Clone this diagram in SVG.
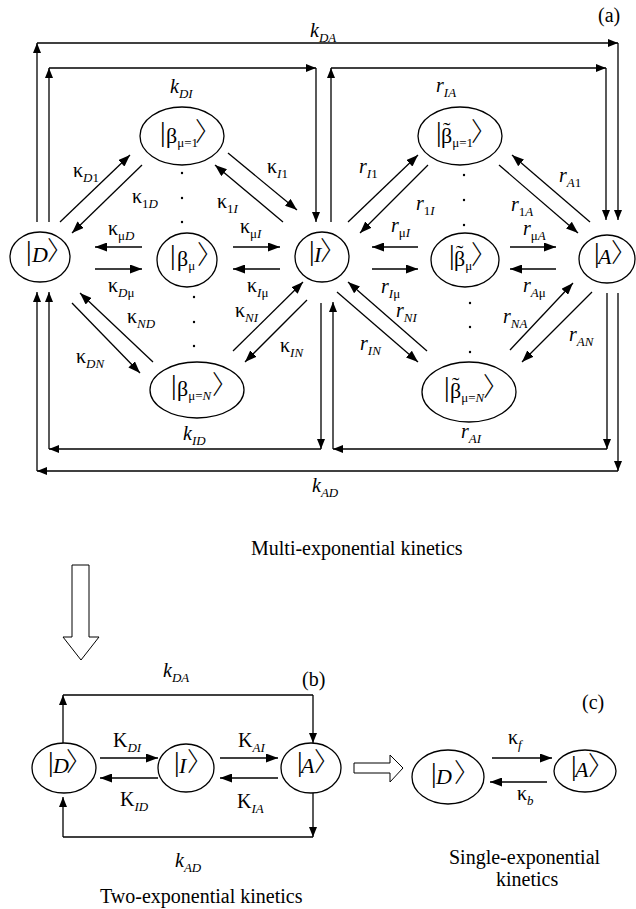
<svg xmlns="http://www.w3.org/2000/svg" width="636" height="909" viewBox="0 0 636 909">
<defs>
<marker id="ah" viewBox="0 0 10 8" refX="10" refY="4" markerWidth="10" markerHeight="8" markerUnits="userSpaceOnUse" orient="auto"><path d="M0,0 L10,4 L0,8 Z" fill="#000"/></marker>
<marker id="ahb" viewBox="0 0 12 9" refX="12" refY="4.5" markerWidth="12" markerHeight="9" markerUnits="userSpaceOnUse" orient="auto"><path d="M0,0 L12,4.5 L0,9 Z" fill="#000"/></marker>
<style>
.ln{stroke:#000;stroke-width:1.3;fill:none}
.a{marker-end:url(#ah)}
.b{marker-end:url(#ahb)}
.hol{fill:#fff;stroke:#000;stroke-width:1}
ellipse{fill:none;stroke:#000;stroke-width:1.3}
text{font-family:"Liberation Serif","DejaVu Serif",serif;fill:#000}
.lb{font-size:20px}
.s{font-size:13px}
.i{font-style:italic}
.ket{font-size:22px}
.br{font-size:28px}
.rb{font-size:26px;font-family:"Noto Sans CJK JP","Noto Sans CJK SC",sans-serif;font-weight:300}
.cap{font-size:20px}
</style>
</defs>

<g id="connectors">
<!-- (a) perimeter -->
<path class="ln a" d="M37,222 V43"/><path class="ln a" d="M37,43 H618"/><path class="ln a" d="M618,43 V220"/>
<path class="ln a" d="M49,222 V68"/><path class="ln a" d="M49,68 H316"/><path class="ln a" d="M316,68 V222"/>
<path class="ln a" d="M331,222 V68"/><path class="ln a" d="M331,68 H606"/><path class="ln a" d="M606,68 V220"/>
<path class="ln a" d="M321,303 V449"/><path class="ln a" d="M321,449 H49"/><path class="ln a" d="M49,449 V292"/>
<path class="ln a" d="M607,293 V449"/><path class="ln a" d="M607,449 H333"/><path class="ln a" d="M333,449 V302"/>
<path class="ln a" d="M618,293 V471"/><path class="ln a" d="M618,471 H37"/><path class="ln a" d="M37,471 V292"/>
<!-- (a) diagonals -->
<path class="ln b" d="M60,222 L130,155"/><path class="ln b" d="M142,165 L72,233"/>
<path class="ln b" d="M228,153 L297,210"/><path class="ln b" d="M283,222 L215,165"/>
<path class="ln b" d="M348,222 L418,155"/><path class="ln b" d="M428,165 L360,233"/>
<path class="ln b" d="M499,165 L578,233"/><path class="ln b" d="M590,222 L512,155"/>
<path class="ln b" d="M153,362 L80,293"/><path class="ln b" d="M72,303 L140,373"/>
<path class="ln b" d="M307,300 L245,362"/><path class="ln b" d="M233,351 L303,282"/>
<path class="ln b" d="M427,351 L348,282"/><path class="ln b" d="M337,292 L418,362"/>
<path class="ln b" d="M510,350 L573,283"/><path class="ln b" d="M592,292 L522,362"/>
<!-- (a) horizontals -->
<path class="ln b" d="M142,247 H95"/><path class="ln b" d="M95,269 H142"/>
<path class="ln b" d="M233,247 H280"/><path class="ln b" d="M280,269 H233"/>
<path class="ln b" d="M418,247 H372"/><path class="ln b" d="M372,269 H418"/>
<path class="ln b" d="M510,247 H556"/><path class="ln b" d="M556,269 H510"/>
<!-- (b) -->
<path class="ln a" d="M63,743 V695"/><path class="ln" d="M63,695 H313"/><path class="ln a" d="M313,695 V743"/>
<path class="ln a" d="M313,793 V837"/><path class="ln" d="M313,837 H63"/><path class="ln a" d="M63,837 V797"/>
<path class="ln b" d="M100,758 H158"/><path class="ln b" d="M158,778 H100"/>
<path class="ln b" d="M220,758 H278"/><path class="ln b" d="M278,778 H220"/>
<!-- (c) -->
<path class="ln b" d="M492,758 H552"/><path class="ln b" d="M547,782 H490"/>
<!-- hollow arrows -->
<path class="hol" d="M72,565 H89 V637 H99 L81,660 L63,637 H72 Z"/>
<path class="hol" d="M354,763 H390 V755 L403,768 L390,782 V773 H354 Z"/>
</g>

<g id="dots" fill="#000">
<circle cx="182" cy="173" r="1.2"/><circle cx="182" cy="198" r="1.2"/><circle cx="182" cy="222" r="1.2"/>
<circle cx="194" cy="297" r="1.2"/><circle cx="194" cy="322" r="1.2"/><circle cx="194" cy="346" r="1.2"/>
<circle cx="464" cy="175" r="1.2"/><circle cx="464" cy="200" r="1.2"/><circle cx="464" cy="225" r="1.2"/>
<circle cx="470" cy="303" r="1.2"/><circle cx="470" cy="327" r="1.2"/><circle cx="470" cy="352" r="1.2"/>
</g>

<!-- (a) nodes -->
<g id="a-D"><ellipse cx="40" cy="257" rx="30" ry="25"/><text class="ket" y="262"><tspan class="br" x="26" dy="-2">|</tspan><tspan class="i" x="32" dy="2">D</tspan><tspan class="rb" x="47" dy="-2">〉</tspan></text></g>
<g id="a-I"><ellipse cx="322" cy="257" rx="27" ry="25"/><text class="ket" y="262"><tspan class="br" x="309" dy="-2">|</tspan><tspan class="i" x="314" dy="2">I</tspan><tspan class="rb" x="320" dy="-2">〉</tspan></text></g>
<g id="a-A"><ellipse cx="607" cy="259" rx="28" ry="24"/><text class="ket" y="264"><tspan class="br" x="594" dy="-2">|</tspan><tspan class="i" x="598" dy="2">A</tspan><tspan class="rb" x="611" dy="-2">〉</tspan></text></g>
<g id="a-b1"><ellipse cx="182" cy="136" rx="42" ry="29"/><text class="ket" y="143"><tspan class="br" x="160" dy="-2">|</tspan><tspan x="166" dy="2">β</tspan><tspan class="s" dy="4">μ=1</tspan><tspan class="rb" x="195" dy="-6">〉</tspan></text></g>
<g id="a-bmu"><ellipse cx="187" cy="260" rx="30" ry="27"/><text class="ket" y="266"><tspan class="br" x="170" dy="-2">|</tspan><tspan x="177" dy="2">β</tspan><tspan class="s" dy="4">μ</tspan><tspan class="rb" x="197" dy="-6">〉</tspan></text></g>
<g id="a-bN"><ellipse cx="197" cy="390" rx="47" ry="28"/><text class="ket" y="396"><tspan class="br" x="171" dy="-2">|</tspan><tspan x="177" dy="2">β</tspan><tspan class="s" dy="4">μ=<tspan class="i">N</tspan></tspan><tspan class="rb" x="212" dy="-6">〉</tspan></text></g>
<g id="a-bt1"><ellipse cx="460" cy="136" rx="42" ry="29"/><text class="ket" y="143"><tspan class="br" x="436" dy="-2">|</tspan><tspan x="441" dy="2">β</tspan><tspan class="s" dy="4">μ=1</tspan><tspan class="rb" x="471" dy="-6">〉</tspan><tspan x="443" dy="-4">˜</tspan></text></g>
<g id="a-btmu"><ellipse cx="465" cy="260" rx="34" ry="27"/><text class="ket" y="266"><tspan class="br" x="449" dy="-2">|</tspan><tspan x="454" dy="2">β</tspan><tspan class="s" dy="4">μ</tspan><tspan class="rb" x="471" dy="-6">〉</tspan><tspan x="456" dy="-4">˜</tspan></text></g>
<g id="a-btN"><ellipse cx="469" cy="392" rx="47" ry="30"/><text class="ket" y="398"><tspan class="br" x="444" dy="-2">|</tspan><tspan x="450" dy="2">β</tspan><tspan class="s" dy="4">μ=<tspan class="i">N</tspan></tspan><tspan class="rb" x="483" dy="-6">〉</tspan><tspan x="452" dy="-4">˜</tspan></text></g>

<!-- (b) nodes -->
<g id="b-D"><ellipse cx="64" cy="768" rx="32" ry="25"/><text class="ket" y="773"><tspan class="br" x="48" dy="-2">|</tspan><tspan class="i" x="53" dy="2">D</tspan><tspan class="rb" x="66" dy="-2">〉</tspan></text></g>
<g id="b-I"><ellipse cx="186" cy="768" rx="28" ry="24"/><text class="ket" y="773"><tspan class="br" x="174" dy="-2">|</tspan><tspan class="i" x="179" dy="2">I</tspan><tspan class="rb" x="187" dy="-2">〉</tspan></text></g>
<g id="b-A"><ellipse cx="311" cy="768" rx="30" ry="25"/><text class="ket" y="773"><tspan class="br" x="297" dy="-2">|</tspan><tspan class="i" x="301" dy="2">A</tspan><tspan class="rb" x="314" dy="-2">〉</tspan></text></g>
<!-- (c) nodes -->
<g id="c-D"><ellipse cx="448" cy="777" rx="36" ry="27"/><text class="ket" y="784" font-size="26"><tspan class="br" x="431" dy="-2" font-size="32">|</tspan><tspan class="i" x="436" dy="2">D</tspan><tspan class="rb" x="454" dy="-2" font-size="30">〉</tspan></text></g>
<g id="c-A"><ellipse cx="585" cy="771" rx="31" ry="21"/><text class="ket" y="777"><tspan class="br" x="571" dy="-2">|</tspan><tspan class="i" x="575" dy="2">A</tspan><tspan class="rb" x="588" dy="-2">〉</tspan></text></g>

<g id="labels" class="lb">
<text x="598" y="22">(a)</text>
<text x="310" y="37"><tspan class="i">k</tspan><tspan class="s i" dy="5">DA</tspan></text>
<text x="170" y="93"><tspan class="i">k</tspan><tspan class="s i" dy="5">DI</tspan></text>
<text x="436" y="92"><tspan class="i">r</tspan><tspan class="s i" dy="5">IA</tspan></text>
<text x="73" y="177">κ<tspan class="s" dy="5"><tspan class="i">D</tspan>1</tspan></text>
<text x="132" y="203">κ<tspan class="s" dy="5">1<tspan class="i">D</tspan></tspan></text>
<text x="267" y="173">κ<tspan class="s" dy="5"><tspan class="i">I</tspan>1</tspan></text>
<text x="217" y="208">κ<tspan class="s" dy="5">1<tspan class="i">I</tspan></tspan></text>
<text x="108" y="235">κ<tspan class="s" dy="5">μ<tspan class="i">D</tspan></tspan></text>
<text x="240" y="233">κ<tspan class="s" dy="5">μ<tspan class="i">I</tspan></tspan></text>
<text x="108" y="292">κ<tspan class="s" dy="5"><tspan class="i">D</tspan>μ</tspan></text>
<text x="247" y="292">κ<tspan class="s" dy="5"><tspan class="i">I</tspan>μ</tspan></text>
<text x="235" y="317">κ<tspan class="s i" dy="5">NI</tspan></text>
<text x="127" y="323">κ<tspan class="s i" dy="5">ND</tspan></text>
<text x="76" y="363">κ<tspan class="s i" dy="5">DN</tspan></text>
<text x="280" y="352">κ<tspan class="s i" dy="5">IN</tspan></text>
<text x="183" y="440"><tspan class="i">k</tspan><tspan class="s i" dy="5">ID</tspan></text>
<text x="312" y="492"><tspan class="i">k</tspan><tspan class="s i" dy="5">AD</tspan></text>
<text x="359" y="173"><tspan class="i">r</tspan><tspan class="s" dy="5"><tspan class="i">I</tspan>1</tspan></text>
<text x="416" y="210"><tspan class="i">r</tspan><tspan class="s" dy="5">1<tspan class="i">I</tspan></tspan></text>
<text x="511" y="211"><tspan class="i">r</tspan><tspan class="s" dy="5">1<tspan class="i">A</tspan></tspan></text>
<text x="559" y="182"><tspan class="i">r</tspan><tspan class="s" dy="5"><tspan class="i">A</tspan>1</tspan></text>
<text x="391" y="232"><tspan class="i">r</tspan><tspan class="s" dy="5">μ<tspan class="i">I</tspan></tspan></text>
<text x="381" y="293"><tspan class="i">r</tspan><tspan class="s" dy="5"><tspan class="i">I</tspan>μ</tspan></text>
<text x="523" y="235"><tspan class="i">r</tspan><tspan class="s" dy="5">μ<tspan class="i">A</tspan></tspan></text>
<text x="523" y="292"><tspan class="i">r</tspan><tspan class="s" dy="5"><tspan class="i">A</tspan>μ</tspan></text>
<text x="396" y="317"><tspan class="i">r</tspan><tspan class="s i" dy="5">NI</tspan></text>
<text x="503" y="323"><tspan class="i">r</tspan><tspan class="s i" dy="5">NA</tspan></text>
<text x="360" y="350"><tspan class="i">r</tspan><tspan class="s i" dy="5">IN</tspan></text>
<text x="569" y="341"><tspan class="i">r</tspan><tspan class="s i" dy="5">AN</tspan></text>
<text x="461" y="438"><tspan class="i">r</tspan><tspan class="s i" dy="5">AI</tspan></text>
<text class="cap" x="251" y="555">Multi-exponential kinetics</text>
<!-- (b) -->
<text x="163" y="677"><tspan class="i">k</tspan><tspan class="s i" dy="5">DA</tspan></text>
<text x="302" y="686">(b)</text>
<text x="113" y="747">Κ<tspan class="s i" dy="5">DI</tspan></text>
<text x="120" y="806">Κ<tspan class="s i" dy="5">ID</tspan></text>
<text x="238" y="747">Κ<tspan class="s i" dy="5">AI</tspan></text>
<text x="237" y="808">Κ<tspan class="s i" dy="5">IA</tspan></text>
<text x="175" y="867"><tspan class="i">k</tspan><tspan class="s i" dy="5">AD</tspan></text>
<text class="cap" x="100" y="903">Two-exponential kinetics</text>
<!-- (c) -->
<text x="582" y="709">(c)</text>
<text x="508" y="744">κ<tspan class="s i" dy="5">f</tspan></text>
<text x="517" y="800">κ<tspan class="s i" dy="5">b</tspan></text>
<text class="cap" x="449" y="864">Single-exponential</text>
<text class="cap" x="496" y="886">kinetics</text>
</g>
</svg>
